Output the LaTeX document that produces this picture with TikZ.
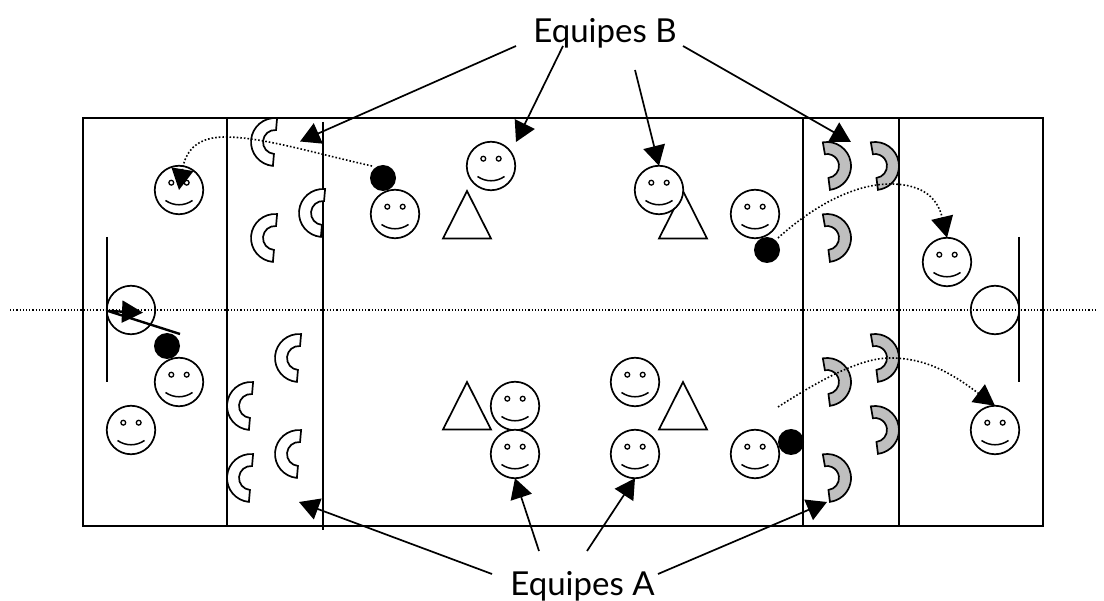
\documentclass[tikz,border=0pt]{standalone}
\usepackage{fontspec}
\setmainfont{Lato}
\usetikzlibrary{arrows.meta}
\tikzset{
  x=1pt,y=1pt,
  base/.style={line width=1.7pt,draw=black},
  face/.style={base,circle,fill=white,minimum size=48.5pt,inner sep=0pt,outer sep=0pt},
  ball/.style={circle,fill=black,minimum size=26pt,inner sep=0pt,outer sep=0pt},
  goalring/.style={base,circle,minimum size=48.5pt,inner sep=0pt,outer sep=0pt},
  tri/.style={base,fill=white,line join=miter},
  cres/.style={base,fill=white,line join=miter},
  gcres/.style={base,fill=black!25,line join=miter},
  lab/.style={font=\fontsize{33}{36}\selectfont,inner sep=0pt,anchor=base},
  ptr/.style={line width=1.7pt,-{Triangle[length=20pt,width=22pt]}},
  dotarrow/.style={line width=1.6pt,dash pattern=on 1.6pt off 2pt,-{Triangle[length=21pt,width=22pt]}},
}
\newcommand\smileyface[3]{%
  \node[face] (#1) at (#2,-#3) {};
  \draw[line width=1.3pt] ([shift={(-7.7,7.3)}]#1.center) circle[radius=2.4];
  \draw[line width=1.3pt] ([shift={(7.7,7.3)}]#1.center) circle[radius=2.4];
  \draw[line width=1.5pt] ([shift={(-13.5,-10.5)}]#1.center) .. controls ([shift={(-5,-16.2)}]#1.center) and ([shift={(5,-16.2)}]#1.center) .. ([shift={(13.5,-10.5)}]#1.center);
}
\newcommand\leftcres[2]{%
  \draw[cres] (#1-2,-#2-24) ++(85:24) arc[start angle=85,end angle=265,radius=24] -- ++(85:12) arc[start angle=265,end angle=85,radius=12] -- cycle;
}
\newcommand\rightcres[2]{%
  \draw[gcres] (#1+4,-#2-24) ++(100:24) arc[start angle=100,end angle=-83,radius=24] -- ++(97:12) arc[start angle=-83,end angle=100,radius=12] -- cycle;
}
\newcommand\triangleat[2]{%
  \draw[tri] (#1,-#2) -- (#1+24,-#2-47.5) -- (#1-24,-#2-47.5) -- cycle;
}
\begin{document}
\begin{tikzpicture}
\useasboundingbox (0,0) rectangle (1104,-601);
% pitch
\draw[base] (83,-118) rectangle (1043,-526);
\draw[base] (227,-118) -- (227,-526);
\draw[base] (323,-122) -- (323,-530);
\draw[base] (803,-118) -- (803,-526);
\draw[base] (899,-118) -- (899,-526);
% goals
\draw[base] (107,-237) -- (107,-382);
\draw[base] (1019,-237) -- (1019,-382);
\node[goalring] (goalL) at (131,-310) {};
\node[goalring] (goalR) at (995,-310) {};
% cones
\triangleat{467}{191}
\triangleat{683}{191}
\triangleat{467}{382}
\triangleat{683}{382}
% crescents
\leftcres{277}{118}
\leftcres{277}{214}
\leftcres{325}{189}
\leftcres{301}{334}
\leftcres{253}{382}
\leftcres{301}{430}
\leftcres{253}{454}
\rightcres{823}{142}
\rightcres{871}{142}
\rightcres{823}{214}
\rightcres{823}{358}
\rightcres{871}{334}
\rightcres{871}{406}
\rightcres{823}{454}
% players
\smileyface{s1}{179}{190}
\smileyface{s2}{179}{382}
\smileyface{s3}{131}{430}
\smileyface{s4}{395}{214}
\smileyface{s5}{491}{166}
\smileyface{s6}{659}{190}
\smileyface{s7}{755}{214}
\smileyface{s8}{947}{262}
\smileyface{s9}{515}{406}
\smileyface{s10}{515}{454}
\smileyface{s11}{635}{382}
\smileyface{s12}{635}{454}
\smileyface{s13}{755}{454}
\smileyface{s14}{995}{430}
% balls
\node[ball] (b1) at (383,-178) {};
\node[ball] (b2) at (167,-346) {};
\node[ball] (b3) at (767,-250) {};
\node[ball] (b4) at (791,-442) {};
% centre line
\coordinate (midL) at (10,-310);
\coordinate (midR) at (1096,-310);
\draw[line width=1.1pt,dash pattern=on 1.1pt off 2.1pt] (midL) -- (midR);
% labels
\node[lab] (eqB) at (605,-43) {Equipes B};
\node[lab] (eqA) at (582.5,-595) {Equipes A};
% pointers
\coordinate (bs1) at (516,-46);
\coordinate (bs2) at (563,-46);
\coordinate (bs3) at (635,-70);
\coordinate (bs4) at (683,-46);
\coordinate (bt1) at (300,-141.5);
\coordinate (bt2) at (516,-142);
\coordinate (bt4) at (851,-142);
\coordinate (as1) at (539,-551);
\coordinate (as2) at (587,-551);
\coordinate (as3) at (658,-574);
\coordinate (as4) at (492,-574);
\coordinate (at3) at (827,-502);
\coordinate (at4) at (299,-502);
\draw[ptr] (bs1) -- (bt1);
\draw[ptr] (bs2) -- (bt2);
\draw[ptr] (bs3) -- (s6.north);
\draw[ptr] (bs4) -- (bt4);
\draw[ptr] (as1) -- (s10.south);
\draw[ptr] (as2) -- (s12.south);
\draw[ptr] (as3) -- (at3);
\draw[ptr] (as4) -- (at4);
% dotted passes
\coordinate (d1s) at (372,-166);
\coordinate (d2s) at (778,-238);
\coordinate (d3s) at (778,-407);
\draw[dotarrow] (d1s) .. controls (310,-152) and (262,-137) .. (225,-137) .. controls (200,-137) and (186,-148) .. (s1.center);
\draw[dotarrow] (d2s) .. controls (820,-200) and (860,-184) .. (890,-184) .. controls (925,-184) and (938,-200) .. (s8.north);
\draw[dotarrow] (d3s) .. controls (820,-380) and (860,-358) .. (890,-358) .. controls (925,-358) and (950,-372) .. (s14.north);
% keeper shot
\coordinate (k1) at (180,-334);
\coordinate (k2) at (108,-311);
\coordinate (k3) at (143,-312.6);
\draw[line width=2.4pt,line join=bevel,-{Triangle[length=21pt,width=22pt]}] (k1) -- (k2) -- (k3);
\end{tikzpicture}
\end{document}
